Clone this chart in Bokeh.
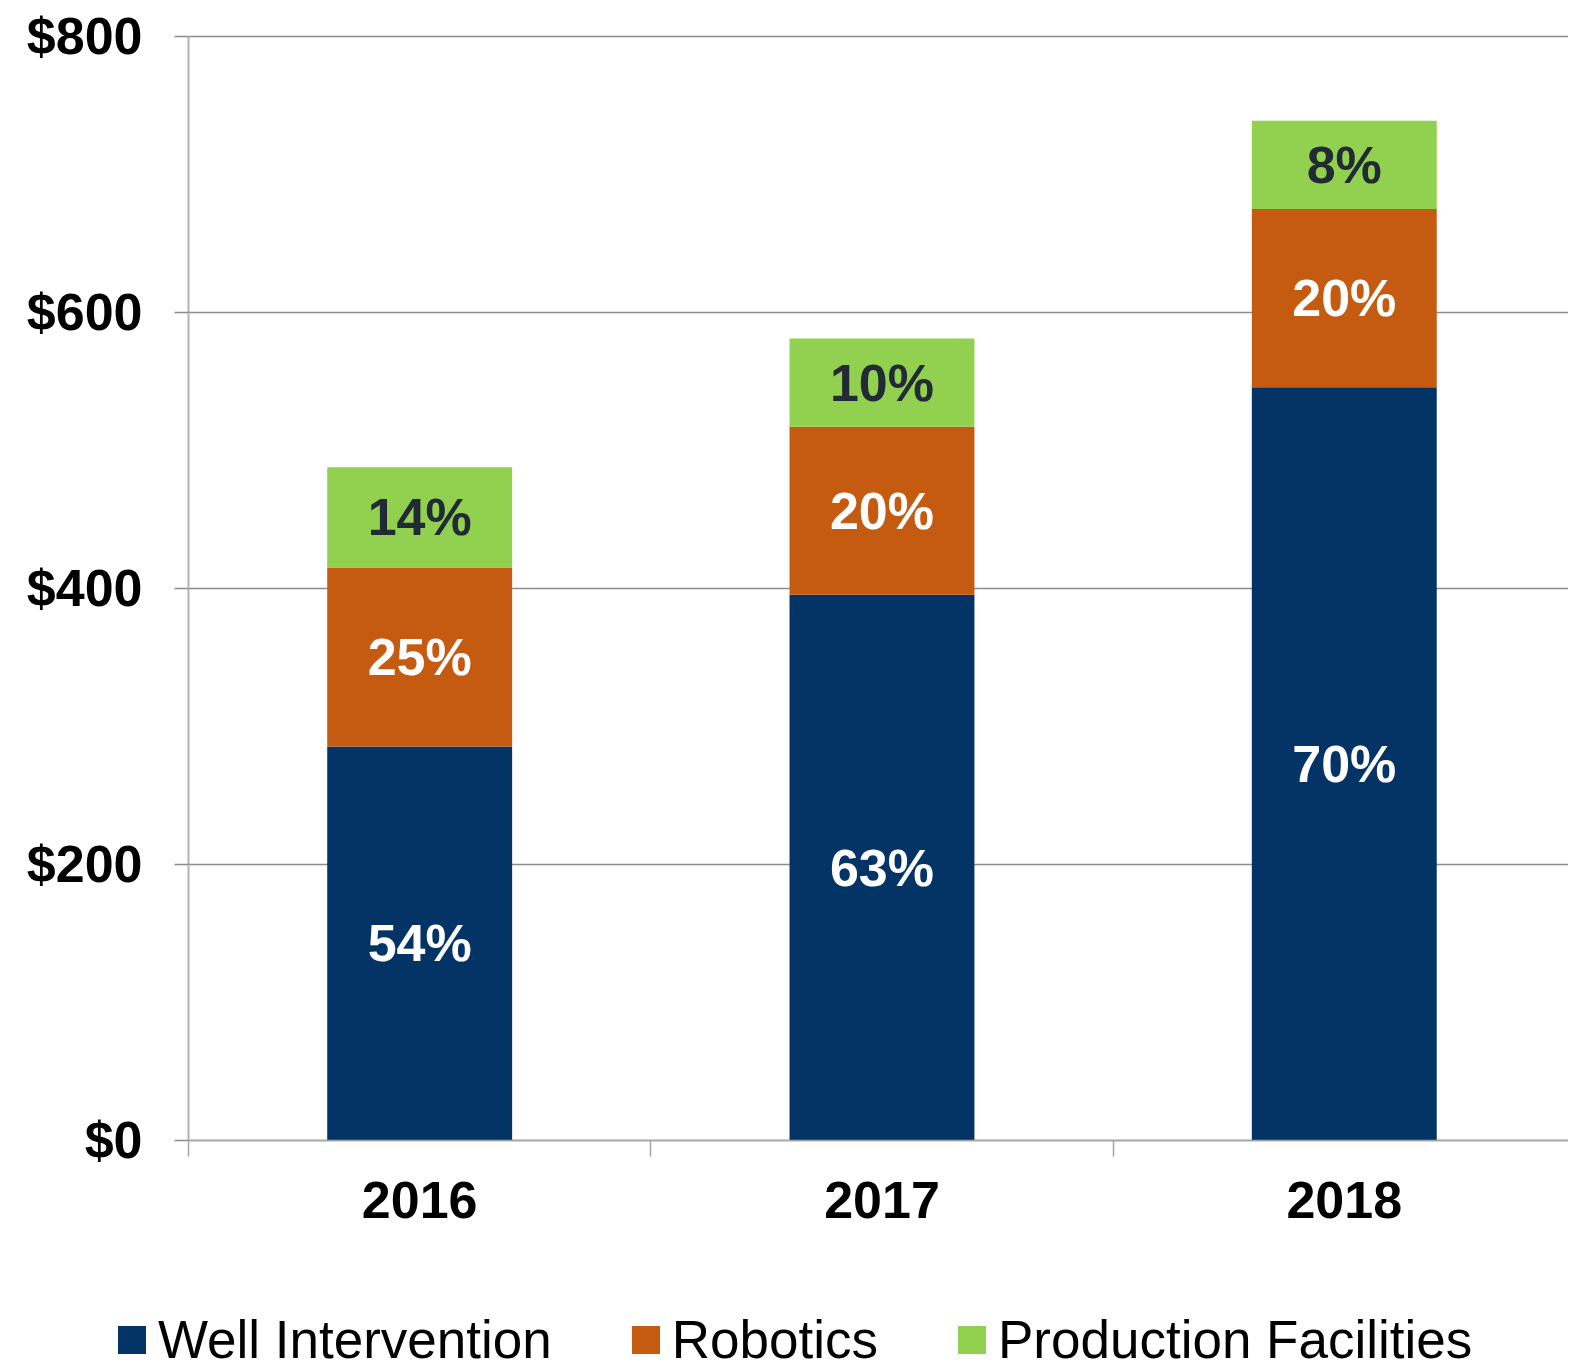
import numpy as np
from bokeh.plotting import figure
from bokeh.models import Range1d, FixedTicker, ColumnDataSource, Legend, LegendItem
from bokeh.core.properties import value
from bokeh.embed import file_html
from bokeh.resources import INLINE

years = ["2016", "2017", "2018"]
series = ["Well Intervention", "Robotics", "Production Facilities"]
well = [285.5, 395.4, 545.7]
robotics = [129.7, 121.8, 129.2]
production = [72.5, 63.8, 64.0]
well_pct = ["54%", "63%", "70%"]
robotics_pct = ["25%", "20%", "20%"]
production_pct = ["14%", "10%", "8%"]
y_ticks = [0, 200, 400, 600, 800]
y_tick_labels = ["$0", "$200", "$400", "$600", "$800"]

colors = ["#033465", "#c55a11", "#92d050"]
label_colors = ["#ffffff", "#ffffff", "#222a35"]
FONT = "Liberation Sans"

n = len(years)
x = np.arange(n) + 0.5
keys = ["well", "robotics", "production"]
source = ColumnDataSource(dict(x=x, well=well, robotics=robotics, production=production))

W, H = 1568, 1369
# the frame covers the whole figure; axes are pinned at x=0 / y=0
p = figure(width=W, height=H, output_backend="svg", toolbar_location=None,
           x_range=Range1d(-0.4067, 2.985), y_range=Range1d(-166, 826),
           min_border_left=0, min_border_top=0, min_border_right=0, min_border_bottom=0)
p.outline_line_color = None
p.xgrid.visible = False
p.ygrid.visible = False

# horizontal gridlines
p.segment(x0=[0] * len(y_ticks), x1=[n] * len(y_ticks), y0=y_ticks, y1=y_ticks,
          line_color="#8c8c8c", line_width=1.5)

rs = p.vbar_stack(keys, x="x", width=0.4, source=source, color=colors, line_color=None)

# percentage labels
vals = [well, robotics, production]
pcts = [well_pct, robotics_pct, production_pct]
bottom = np.zeros(n)
for v, pc, c in zip(vals, pcts, label_colors):
    v = np.array(v)
    mid = bottom + v / 2
    p.text(x=x, y=mid, text=pc, text_align="center", text_baseline="middle",
           text_font=value(FONT), text_font_style="bold", text_font_size="52px",
           text_color=c)
    bottom = bottom + v

# x axis
xa = p.xaxis[0]
xa.fixed_location = 0
xa.bounds = (0, n)
xa.ticker = FixedTicker(ticks=list(x), minor_ticks=list(range(n + 1)))
xa.major_label_overrides = {float(xx): yy for xx, yy in zip(x, years)}
xa.major_tick_line_color = None
xa.major_tick_out = 0
xa.major_tick_in = 0
xa.minor_tick_out = 16
xa.minor_tick_in = 0
xa.minor_tick_line_color = "#a6a6a6"
xa.minor_tick_line_width = 1.5
xa.axis_line_color = "#a6a6a6"
xa.axis_line_width = 1.5
xa.major_label_text_font = FONT
xa.major_label_text_font_style = "bold"
xa.major_label_text_font_size = "52px"
xa.major_label_text_color = "black"
xa.major_label_standoff = 26

# y axis
ya = p.yaxis[0]
ya.fixed_location = 0
ya.bounds = (0, 800)
ya.ticker = FixedTicker(ticks=y_ticks, minor_ticks=[])
ya.major_label_overrides = {t: l for t, l in zip(y_ticks, y_tick_labels)}
ya.major_tick_out = 14
ya.major_tick_in = 0
ya.major_tick_line_color = "#8c8c8c"
ya.major_tick_line_width = 1.5
ya.axis_line_color = "#b3b3b3"
ya.axis_line_width = 2
ya.major_label_text_font = FONT
ya.major_label_text_font_style = "bold"
ya.major_label_text_font_size = "52px"
ya.major_label_text_color = "black"
ya.major_label_standoff = 32

legend = Legend(items=[LegendItem(label=s, renderers=[r]) for s, r in zip(series, rs)],
                orientation="horizontal", location=(114, -1),
                glyph_width=35, glyph_height=35, label_standoff=9, spacing=76,
                padding=0, margin=0, border_line_color=None, background_fill_alpha=0,
                label_text_font=FONT, label_text_font_size="53px", label_text_color="black",
                label_height=50)
p.add_layout(legend, "center")

open("out.html", "w").write(file_html(p, INLINE))
